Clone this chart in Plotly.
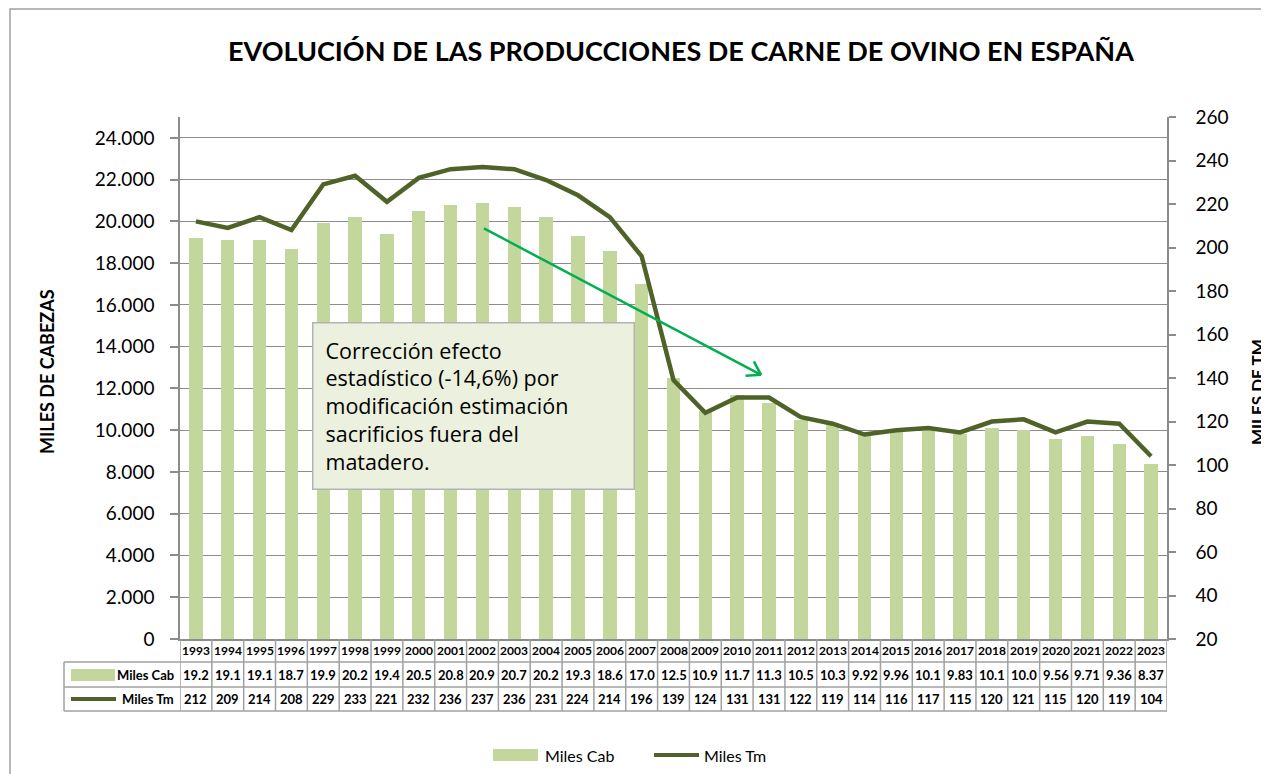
import plotly.graph_objects as go

years = list(range(1993, 2024))
miles_cab = [19.2, 19.1, 19.1, 18.7, 19.9, 20.2, 19.4, 20.5, 20.8, 20.9, 20.7, 20.2, 19.3, 18.6,
             17.0, 12.5, 10.9, 11.7, 11.3, 10.5, 10.3, 9.92, 9.96, 10.1, 9.83, 10.1, 10.0, 9.56,
             9.71, 9.36, 8.37]
miles_tm = [212, 209, 214, 208, 229, 233, 221, 232, 236, 237, 236, 231, 224, 214, 196, 139, 124,
            131, 131, 122, 119, 114, 116, 117, 115, 120, 121, 115, 120, 119, 104]
left_ticks = list(range(0, 24001, 2000))
right_ticks = list(range(20, 261, 20))

BAR = "#c3d69b"
LINE = "#4f6228"
GRID = "#8c8c8c"
BORDER = "#a0a0a0"
FONT = "Lato"

OFF = 8  # page body margin
W, H = 1269 - OFF, 774 - OFF
PL, PR, PT, PB = 180, 1167, 117, 639  # plot area in viewport pixels
L, R, T, B = PL - OFF, W - (PR - OFF), PT - OFF, H - (PB - OFF)
PW, PH = PR - PL, PB - PT


def px(x):
    return (x - PL) / PW


def py(y):
    return (PB - y) / PH


def fmt_cab(v):
    return f"{v:.1f}" if v >= 10 else f"{v:.2f}"


fig = go.Figure()
fig.add_trace(go.Bar(x=years, y=[v * 1000 for v in miles_cab], name="Miles Cab",
                     marker=dict(color=BAR, line=dict(width=0)), width=0.42))
fig.add_trace(go.Scatter(x=years, y=miles_tm, name="Miles Tm", yaxis="y2", mode="lines",
                         line=dict(color=LINE, width=4.5)))

shapes = []
ann = []


def text(x, y, s, size, xanchor="center", xref="paper", bold=False, family=FONT, angle=0):
    ann.append(dict(x=x, y=y, xref=xref, yref="paper", text=f"<b>{s}</b>" if bold else s,
                    showarrow=False, xanchor=xanchor, yanchor="middle", textangle=angle,
                    font=dict(family=family, size=size, color="#000")))


# outer frame
shapes.append(dict(type="rect", xref="paper", yref="paper", x0=px(10), x1=px(1320), y0=py(820), y1=py(9),
                   line=dict(color=BORDER, width=1.5), layer="below"))

# data table
y_year_bot = py(662)
y_cab_bot = py(687)
y_tm_bot = py(711)
x0 = years[0] - 0.5
x1 = years[-1] + 0.5
for i in range(len(years) + 1):
    xv = x0 + i
    shapes.append(dict(type="line", xref="x", yref="paper", x0=xv, x1=xv, y0=y_tm_bot, y1=0,
                       line=dict(color=BORDER, width=1.5)))
for yv in [y_year_bot, y_cab_bot, y_tm_bot]:
    shapes.append(dict(type="line", xref="paper", yref="paper", x0=px(64), x1=px(PL), y0=yv, y1=yv,
                       line=dict(color=BORDER, width=1.5)))
    shapes.append(dict(type="line", xref="x", yref="paper", x0=x0, x1=x1, y0=yv, y1=yv,
                       line=dict(color=BORDER, width=1.5)))
shapes.append(dict(type="line", xref="paper", yref="paper", x0=px(64), x1=px(64), y0=y_tm_bot, y1=y_year_bot,
                   line=dict(color=BORDER, width=1.5)))

for yr, c, t in zip(years, miles_cab, miles_tm):
    text(yr, (0 + y_year_bot) / 2, yr, 12, xref="x", bold=True)
    text(yr, (y_year_bot + y_cab_bot) / 2, fmt_cab(c), 13, xref="x", bold=True)
    text(yr, (y_cab_bot + y_tm_bot) / 2, t, 13, xref="x", bold=True)

# table legend keys
shapes.append(dict(type="rect", xref="paper", yref="paper", x0=px(71), x1=px(115), y0=py(681), y1=py(669),
                   fillcolor=BAR, line=dict(width=0)))
shapes.append(dict(type="line", xref="paper", yref="paper", x0=px(71), x1=px(116), y0=py(699), y1=py(699),
                   line=dict(color=LINE, width=4)))
text(px(176), py(675), "Miles Cab", 13, xanchor="right", bold=True)
text(px(176), py(699), "Miles Tm", 13, xanchor="right", bold=True)

# bottom legend
shapes.append(dict(type="rect", xref="paper", yref="paper", x0=px(493), x1=px(538), y0=py(761), y1=py(749),
                   fillcolor=BAR, line=dict(width=0)))
shapes.append(dict(type="line", xref="paper", yref="paper", x0=px(654), x1=px(699), y0=py(755), y1=py(755),
                   line=dict(color=LINE, width=4)))
text(px(543), py(755), "Miles Cab", 16, xanchor="left")
text(px(702), py(755), "Miles Tm", 16, xanchor="left")

# title
text(px(681), py(50), "EVOLUCIÓN DE LAS PRODUCCIONES DE CARNE DE OVINO EN ESPAÑA", 27, bold=True)
# axis titles
text(px(47), py(372), "MILES DE CABEZAS", 18, bold=True, angle=-90)
text(px(1257), py(392), "MILES DE TM", 17, bold=True, angle=-90)

# arrow (open V head drawn with two short strokes)
GREEN = "#00b050"
tip_x, tip_y = 2010.75, 12650
ann.append(dict(x=tip_x, y=tip_y, xref="x", yref="y", ax=2002, ay=19700, axref="x", ayref="y",
                text="", showarrow=True, arrowhead=0, arrowwidth=2.5, arrowcolor=GREEN))
for wx, wy in [(-8, -15), (-17, 1)]:
    ann.append(dict(x=tip_x, y=tip_y, xref="x", yref="y", ax=wx, ay=wy, text="", showarrow=True,
                    arrowhead=0, arrowwidth=2.5, arrowcolor=GREEN))

# note box
ann.append(dict(x=px(312), y=py(322), xref="paper", yref="paper", xanchor="left", yanchor="top",
                text="Corrección efecto<br>estadístico (-14,6%) por<br>modificación estimación<br>sacrificios fuera del<br>matadero.",
                showarrow=False, align="left", valign="top", width=296, height=141, borderpad=12,
                bgcolor="#ebf1de", bordercolor="#b3b3b3", borderwidth=1.5,
                font=dict(family="Open Sans", size=21.5, color="#000")))

fig.update_layout(
    width=W, height=H,
    margin=dict(l=L, r=R, t=T, b=B),
    paper_bgcolor="white", plot_bgcolor="white",
    separators=",.",
    showlegend=False,
    bargap=0,
    xaxis=dict(range=[x0, x1], showticklabels=False, showgrid=False, zeroline=False,
               showline=True, linecolor=GRID, linewidth=1.5, ticks=""),
    yaxis=dict(range=[0, 25000], tickvals=left_ticks, tickformat=",.0f", showgrid=True, gridcolor=GRID,
               gridwidth=1.2, zeroline=False, showline=True, linecolor=GRID, linewidth=1.5,
               ticks="outside", ticklen=8, tickcolor=GRID, tickwidth=1.5, ticklabelstandoff=12,
               tickfont=dict(family=FONT, size=19, color="#000")),
    yaxis2=dict(range=[20, 260], tickvals=right_ticks, overlaying="y", side="right", showgrid=False,
                zeroline=False, showline=True, linecolor=GRID, linewidth=1.5,
                ticks="outside", ticklen=7, tickcolor=GRID, tickwidth=1.5, ticklabelstandoff=16,
                tickfont=dict(family=FONT, size=19, color="#000")),
    shapes=shapes,
    annotations=ann,
)

fig.write_html("out.html")
